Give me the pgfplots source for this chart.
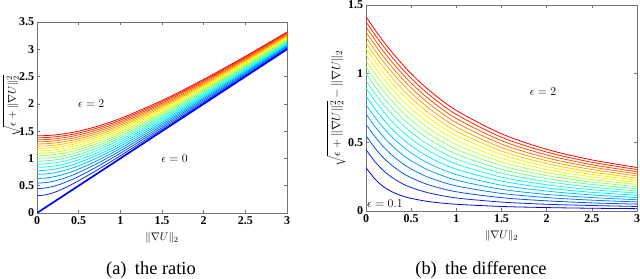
\documentclass[border=0pt]{standalone}
\usepackage{pgfplots}
\usepackage{pgfplotstable}
\pgfplotsset{compat=1.18}
\usepackage{fontspec}
\setmainfont{Liberation Serif}

% colours for the ratio panel (eps = 0 ... 2)
\definecolor{c0}{rgb}{0,0,1}
\definecolor{c1}{rgb}{0,0.15,1}
\definecolor{c2}{rgb}{0,0.3,1}
\definecolor{c3}{rgb}{0,0.45,1}
\definecolor{c4}{rgb}{0,0.6,1}
\definecolor{c5}{rgb}{0,0.75,1}
\definecolor{c6}{rgb}{0,0.9,1}
\definecolor{c7}{rgb}{0.05,1,0.95}
\definecolor{c8}{rgb}{0.2,1,0.8}
\definecolor{c9}{rgb}{0.35,1,0.65}
\definecolor{c10}{rgb}{0.5,1,0.5}
\definecolor{c11}{rgb}{0.65,1,0.35}
\definecolor{c12}{rgb}{0.8,1,0.2}
\definecolor{c13}{rgb}{0.95,1,0.05}
\definecolor{c14}{rgb}{1,0.9,0}
\definecolor{c15}{rgb}{1,0.75,0}
\definecolor{c16}{rgb}{1,0.6,0}
\definecolor{c17}{rgb}{1,0.45,0}
\definecolor{c18}{rgb}{1,0.3,0}
\definecolor{c19}{rgb}{1,0.15,0}
\definecolor{c20}{rgb}{1,0,0}
% colours for the difference panel (eps = 0.1 ... 2)
\definecolor{d1}{rgb}{0,0,0.95}
\definecolor{d2}{rgb}{0,0.158,1}
\definecolor{d3}{rgb}{0,0.316,1}
\definecolor{d4}{rgb}{0,0.474,1}
\definecolor{d5}{rgb}{0,0.632,1}
\definecolor{d6}{rgb}{0,0.789,1}
\definecolor{d7}{rgb}{0,0.947,1}
\definecolor{d8}{rgb}{0.105,1,0.895}
\definecolor{d9}{rgb}{0.263,1,0.737}
\definecolor{d10}{rgb}{0.421,1,0.579}
\definecolor{d11}{rgb}{0.579,1,0.421}
\definecolor{d12}{rgb}{0.737,1,0.263}
\definecolor{d13}{rgb}{0.895,1,0.105}
\definecolor{d14}{rgb}{1,0.947,0}
\definecolor{d15}{rgb}{1,0.789,0}
\definecolor{d16}{rgb}{1,0.632,0}
\definecolor{d17}{rgb}{1,0.474,0}
\definecolor{d18}{rgb}{1,0.316,0}
\definecolor{d19}{rgb}{1,0.158,0}
\definecolor{d20}{rgb}{1,0,0}

% sqrt(eps + x^2), columns e0..e20 for eps = 0, 0.1, ..., 2
\pgfplotstableread{
x e0 e1 e2 e3 e4 e5 e6 e7 e8 e9 e10 e11 e12 e13 e14 e15 e16 e17 e18 e19 e20
0 0 0.316 0.447 0.548 0.632 0.707 0.775 0.837 0.894 0.949 1.000 1.049 1.095 1.140 1.183 1.225 1.265 1.304 1.342 1.378 1.414
0.1 0.1 0.332 0.458 0.557 0.640 0.714 0.781 0.843 0.900 0.954 1.005 1.054 1.100 1.145 1.187 1.229 1.269 1.308 1.345 1.382 1.418
0.2 0.2 0.374 0.490 0.583 0.663 0.735 0.800 0.860 0.917 0.970 1.020 1.068 1.114 1.158 1.200 1.241 1.281 1.319 1.356 1.393 1.428
0.3 0.3 0.436 0.539 0.624 0.700 0.768 0.831 0.889 0.943 0.995 1.044 1.091 1.136 1.179 1.221 1.261 1.300 1.338 1.375 1.411 1.446
0.4 0.4 0.510 0.600 0.678 0.748 0.812 0.872 0.927 0.980 1.030 1.077 1.122 1.166 1.208 1.249 1.288 1.327 1.364 1.400 1.435 1.470
0.5 0.5 0.592 0.671 0.742 0.806 0.866 0.922 0.975 1.025 1.072 1.118 1.162 1.204 1.245 1.285 1.323 1.360 1.396 1.432 1.466 1.500
0.7 0.7 0.768 0.831 0.889 0.943 0.995 1.044 1.091 1.136 1.179 1.221 1.261 1.300 1.338 1.375 1.411 1.446 1.480 1.513 1.546 1.578
1 1 1.049 1.095 1.140 1.183 1.225 1.265 1.304 1.342 1.378 1.414 1.449 1.483 1.517 1.549 1.581 1.612 1.643 1.673 1.703 1.732
1.5 1.5 1.533 1.565 1.597 1.628 1.658 1.688 1.718 1.746 1.775 1.803 1.830 1.857 1.884 1.911 1.936 1.962 1.987 2.012 2.037 2.062
2 2 2.025 2.049 2.074 2.098 2.121 2.145 2.168 2.191 2.214 2.236 2.258 2.280 2.302 2.324 2.345 2.366 2.387 2.408 2.429 2.449
2.5 2.5 2.520 2.540 2.559 2.579 2.598 2.617 2.636 2.655 2.674 2.693 2.711 2.729 2.748 2.766 2.784 2.802 2.820 2.837 2.855 2.872
3 3 3.017 3.033 3.050 3.066 3.082 3.098 3.115 3.131 3.146 3.162 3.178 3.194 3.209 3.225 3.240 3.256 3.271 3.286 3.302 3.317
}\ratiotab

% sqrt(eps + x^2) - x, columns e1..e20 for eps = 0.1, ..., 2
\pgfplotstableread{
x e1 e2 e3 e4 e5 e6 e7 e8 e9 e10 e11 e12 e13 e14 e15 e16 e17 e18 e19 e20
0 0.316 0.447 0.548 0.632 0.707 0.775 0.837 0.894 0.949 1.000 1.049 1.095 1.140 1.183 1.225 1.265 1.304 1.342 1.378 1.414
0.1 0.232 0.358 0.457 0.540 0.614 0.681 0.743 0.800 0.854 0.905 0.954 1.000 1.045 1.087 1.129 1.169 1.208 1.245 1.282 1.318
0.2 0.174 0.290 0.383 0.463 0.535 0.600 0.660 0.717 0.770 0.820 0.868 0.914 0.958 1.000 1.041 1.081 1.119 1.156 1.193 1.228
0.3 0.136 0.239 0.325 0.400 0.468 0.531 0.589 0.643 0.695 0.744 0.791 0.836 0.879 0.921 0.961 1.000 1.038 1.075 1.111 1.146
0.4 0.110 0.200 0.278 0.348 0.412 0.472 0.527 0.580 0.630 0.677 0.722 0.766 0.808 0.849 0.888 0.927 0.964 1.000 1.035 1.070
0.5 0.092 0.171 0.242 0.306 0.366 0.422 0.475 0.525 0.572 0.618 0.662 0.704 0.745 0.785 0.823 0.860 0.896 0.932 0.966 1.000
0.7 0.068 0.131 0.189 0.243 0.295 0.344 0.391 0.436 0.479 0.521 0.561 0.600 0.638 0.675 0.711 0.746 0.780 0.813 0.846 0.878
1 0.049 0.095 0.140 0.183 0.225 0.265 0.304 0.342 0.378 0.414 0.449 0.483 0.517 0.549 0.581 0.612 0.643 0.673 0.703 0.732
1.5 0.033 0.065 0.097 0.128 0.158 0.188 0.218 0.246 0.275 0.303 0.330 0.357 0.384 0.411 0.437 0.462 0.487 0.512 0.537 0.562
2 0.025 0.049 0.074 0.098 0.121 0.145 0.168 0.191 0.214 0.236 0.258 0.280 0.302 0.324 0.345 0.366 0.387 0.408 0.429 0.449
2.5 0.020 0.040 0.059 0.079 0.098 0.117 0.136 0.155 0.174 0.193 0.211 0.229 0.248 0.266 0.284 0.302 0.320 0.337 0.355 0.372
3 0.017 0.033 0.050 0.066 0.082 0.098 0.115 0.131 0.146 0.162 0.178 0.194 0.209 0.225 0.240 0.256 0.271 0.286 0.302 0.317
}\difftab

\pgfplotsset{
  panel/.style={
    scale only axis,
    anchor=south west,
    xmin=0, xmax=3,
    xtick={0,0.5,...,3},
    xticklabels={0,0.5,1,1.5,2,2.5,3},
    tick align=inside,
    major tick length=3bp,
    axis line style={black!55, line width=0.5pt},
    tick style={black!55, line width=0.5pt},
    tick label style={font=\fontsize{12}{13}\selectfont\bfseries, text=black},
    /pgf/number format/assume math mode=true,
    xticklabel style={yshift=-0.5bp},
    yticklabel style={xshift=0.5bp},
    every axis x label/.style={at={(axis description cs:0.5,0)}, anchor=center, yshift=-25bp, font=\fontsize{11}{12}\selectfont},
    clip=true,
  },
}

\begin{document}
\begin{tikzpicture}
\useasboundingbox (0bp,0bp) rectangle (640bp,279bp);

\begin{axis}[panel,
  at={(37bp,66bp)}, width=250bp, height=191bp,
  ymin=0, ymax=3.5, ytick={0,0.5,...,3.5},
  yticklabels={0,0.5,1,1.5,2,2.5,3,3.5},
  xlabel={$\|\nabla U\|_2$},
  ylabel={$\sqrt{\epsilon+\|\nabla U\|_2^2}$},
  every axis y label/.style={at={(axis description cs:-0.1,0.56)}, rotate=90, anchor=center, inner sep=0pt, font=\fontsize{11}{12}\selectfont},
]
\pgfplotsinvokeforeach{1,...,20}{
  \addplot[c#1, line width=0.8pt, smooth, no markers] table[x=x, y=e#1] {\ratiotab};
}
\addplot[c0, line width=1.7pt, no markers] table[x=x, y=e0] {\ratiotab};
\node[font=\fontsize{12}{13}\selectfont] at (axis cs:0.65,2.0) {$\epsilon=2$};
\node[font=\fontsize{12}{13}\selectfont] at (axis cs:1.65,1.0) {$\epsilon=0$};
\end{axis}

\begin{axis}[panel,
  at={(366bp,68bp)}, width=271bp, height=206bp,
  ymin=0, ymax=1.5, ytick={0,0.5,1,1.5},
  yticklabels={0,0.5,1,1.5},
  xlabel={$\|\nabla U\|_2$},
  ylabel={$\sqrt{\epsilon+\|\nabla U\|_2^2}-\|\nabla U\|_2$},
  every axis y label/.style={at={(axis description cs:-0.11,0.5)}, rotate=90, anchor=center, inner sep=0pt, font=\fontsize{13}{14}\selectfont},
]
\pgfplotsinvokeforeach{1,...,20}{
  \addplot[d#1, line width=0.8pt, smooth, no markers] table[x=x, y=e#1] {\difftab};
}
\node[font=\fontsize{12}{13}\selectfont] at (axis cs:1.96,0.867) {$\epsilon=2$};
\node[font=\fontsize{12}{13}\selectfont, anchor=west, inner sep=1bp] at (axis cs:0.0,0.05) {$\epsilon=0.1$};
\end{axis}

\node[font=\fontsize{18.5}{20}\selectfont, anchor=base] at (151bp,5bp) {(a)\hspace{0.45em}the ratio};
\node[font=\fontsize{18.5}{20}\selectfont, anchor=base] at (481bp,5bp) {(b)\hspace{0.45em}the difference};
\end{tikzpicture}
\end{document}
